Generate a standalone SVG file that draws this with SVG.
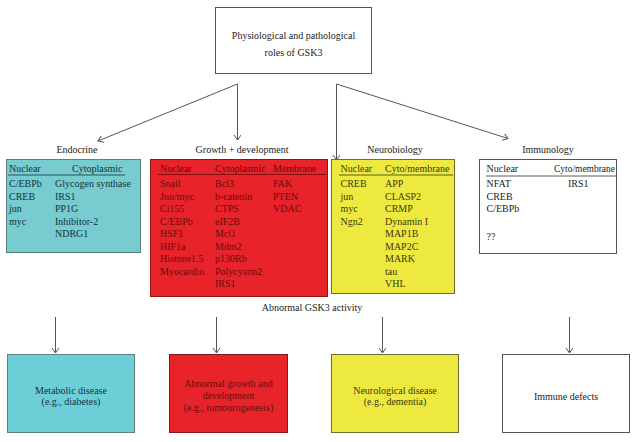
<svg xmlns="http://www.w3.org/2000/svg" width="637" height="442" viewBox="0 0 637 442">
<style>
text{font-family:"Liberation Serif","Times New Roman",serif;font-size:10px;fill:#222}
.c{text-anchor:middle}
.cy text{fill:#16323c}
.rd text{fill:#6b0b0b}
.yl text{fill:#3c3a12}
.ln{stroke:#555;stroke-width:1;fill:none}
</style>
<defs>
<marker id="ah" markerWidth="8" markerHeight="8" refX="5" refY="3.5" orient="auto" markerUnits="userSpaceOnUse">
<path d="M0,0 L5,3.5 L0,7" fill="none" stroke="#555" stroke-width="1"/>
</marker>
</defs>
<rect width="637" height="442" fill="#fff"/>

<g id="root">
<rect x="215.5" y="7.5" width="156" height="66" fill="#fff" stroke="#555"/>
<text class="c" x="293.5" y="38.5">Physiological and pathological</text>
<text class="c" x="293.5" y="55.5">roles of GSK3</text>
</g>

<g id="connectors" class="ln">
<line x1="237.5" y1="84" x2="98" y2="141" marker-end="url(#ah)"/>
<line x1="237.5" y1="84" x2="237.5" y2="140" marker-end="url(#ah)"/>
<line x1="336.5" y1="84" x2="336.5" y2="160" marker-end="url(#ah)"/>
<line x1="336.5" y1="84" x2="508" y2="138.5" marker-end="url(#ah)"/>
<line x1="55.5" y1="317" x2="55.5" y2="353" marker-end="url(#ah)"/>
<line x1="216.5" y1="317" x2="216.5" y2="353" marker-end="url(#ah)"/>
<line x1="382.5" y1="317" x2="382.5" y2="353" marker-end="url(#ah)"/>
<line x1="569.5" y1="317" x2="569.5" y2="353" marker-end="url(#ah)"/>
</g>

<g id="endocrine" class="cy">
<text class="c" x="77" y="152.5" style="fill:#222">Endocrine</text>
<rect x="6.5" y="159.5" width="134" height="93" fill="#76ccce" stroke="#5f7f80"/>
<line x1="8" y1="175" x2="125" y2="175" stroke="#16323c" stroke-width="0.8"/>
<text x="9" y="171.5">Nuclear</text>
<text x="72" y="171.5">Cytoplasmic</text>
<text x="9" y="187">C/EBPb</text><text x="55" y="187">Glycogen synthase</text>
<text x="9" y="199.5">CREB</text><text x="55" y="199.5">IRS1</text>
<text x="9" y="212">jun</text><text x="55" y="212">PP1G</text>
<text x="9" y="224.5">myc</text><text x="55" y="224.5">Inhibitor-2</text>
<text x="55" y="237">NDRG1</text>
</g>

<g id="growth" class="rd">
<text class="c" x="242" y="152.5" style="fill:#222">Growth + development</text>
<rect x="150.5" y="159.5" width="177" height="137" fill="#e8232a" stroke="#8a1515"/>
<line x1="158" y1="174.5" x2="326" y2="174.5" stroke="#6b0b0b" stroke-width="0.8"/>
<text x="160" y="171.5">Nuclear</text>
<text x="215" y="171.5">Cytoplasmic</text>
<text x="273" y="171.5">Membrane</text>
<text x="160" y="187">Snail</text><text x="215" y="187">Bcl3</text><text x="273" y="187">FAK</text>
<text x="160" y="199.5">Jun/myc</text><text x="215" y="199.5">b-catenin</text><text x="273" y="199.5">PTEN</text>
<text x="160" y="212">Ci155</text><text x="215" y="212">CTPS</text><text x="273" y="212">VDAC</text>
<text x="160" y="224.5">C/EBPb</text><text x="215" y="224.5">eIF2B</text>
<text x="160" y="237">HSF1</text><text x="215" y="237">Mcl1</text>
<text x="160" y="249.5">HIF1a</text><text x="215" y="249.5">Mdm2</text>
<text x="160" y="262">Histone1.5</text><text x="215" y="262">p130Rb</text>
<text x="160" y="274.5">Myocardin</text><text x="215" y="274.5">Polycystin2</text>
<text x="215" y="287">IRS1</text>
</g>

<g id="neuro" class="yl">
<text class="c" x="395" y="152.5" style="fill:#222">Neurobiology</text>
<rect x="331.5" y="159.5" width="123" height="134" fill="#ede93f" stroke="#6f6d30"/>
<line x1="339" y1="175" x2="453" y2="175" stroke="#3c3a12" stroke-width="0.8"/>
<text x="340.5" y="171.5">Nuclear</text>
<text x="385" y="171.5">Cyto/membrane</text>
<text x="340.5" y="187">CREB</text><text x="385" y="187">APP</text>
<text x="340.5" y="199.5">jun</text><text x="385" y="199.5">CLASP2</text>
<text x="340.5" y="212">myc</text><text x="385" y="212">CRMP</text>
<text x="340.5" y="224.5">Ngn2</text><text x="385" y="224.5">Dynamin I</text>
<text x="385" y="237">MAP1B</text>
<text x="385" y="249.5">MAP2C</text>
<text x="385" y="262">MARK</text>
<text x="385" y="274.5">tau</text>
<text x="385" y="287">VHL</text>
</g>

<g id="immuno">
<text class="c" x="548" y="152.5">Immunology</text>
<rect x="479.5" y="159.5" width="137" height="94" fill="#fff" stroke="#555"/>
<line x1="486" y1="176" x2="616" y2="176" stroke="#333" stroke-width="0.8"/>
<text x="486.5" y="171.5">Nuclear</text>
<text x="554" y="171.5" textLength="61" lengthAdjust="spacingAndGlyphs">Cyto/membrane</text>
<text x="486.5" y="187">NFAT</text><text x="568" y="187">IRS1</text>
<text x="486.5" y="199.5">CREB</text>
<text x="486.5" y="212">C/EBPb</text>
<text x="486.5" y="240">??</text>
</g>

<g id="abnormal">
<text class="c" x="312" y="311">Abnormal GSK3 activity</text>
</g>

<g id="metabolic" class="cy">
<rect x="7.5" y="354.5" width="127" height="78" fill="#6ccfd8" stroke="#5f7f80"/>
<text class="c" x="71" y="393.5">Metabolic disease</text>
<text class="c" x="71" y="405">(e.g., diabetes)</text>
</g>

<g id="abn-growth" class="rd">
<rect x="169.5" y="354.5" width="118" height="78" fill="#e8232a" stroke="#8a1515"/>
<text class="c" x="228.5" y="387">Abnormal growth and</text>
<text class="c" x="228.5" y="398.5">development</text>
<text class="c" x="228.5" y="410.5">(e.g., tumourogenesis)</text>
</g>

<g id="neuro-disease" class="yl">
<rect x="331.5" y="354.5" width="127" height="78" fill="#ede93f" stroke="#6f6d30"/>
<text class="c" x="395" y="393.5">Neurological disease</text>
<text class="c" x="395" y="405">(e.g., dementia)</text>
</g>

<g id="immune-defects">
<rect x="502.5" y="354.5" width="127" height="78" fill="#fff" stroke="#555"/>
<text class="c" x="566" y="400">Immune defects</text>
</g>
</svg>
